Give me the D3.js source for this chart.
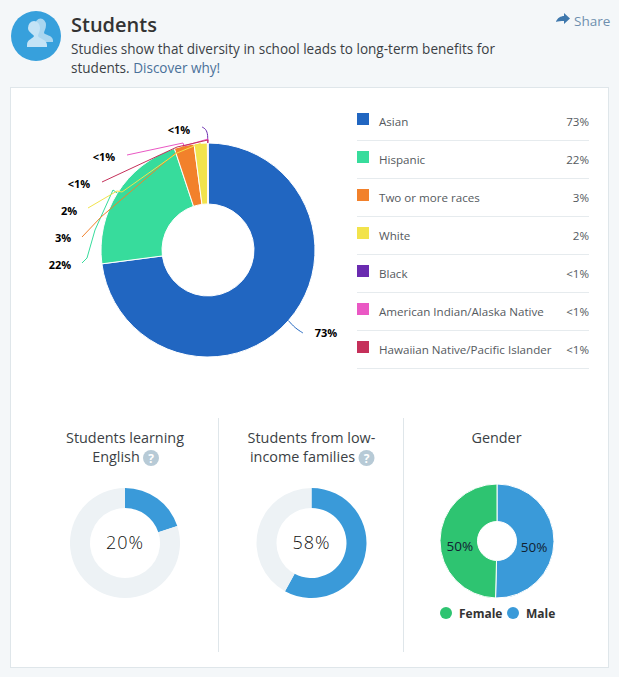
<!DOCTYPE html>
<html><head><meta charset="utf-8">
<script src="https://cdn.jsdelivr.net/npm/d3@7"></script>
<style>
html,body{margin:0;padding:0;background:#f4f7f9;}
svg{display:block;font-family:"Open Sans",sans-serif;}
</style></head><body>
<svg id="c" width="619" height="677"></svg>
<script>
// ---- data ----
const raceNames = ["Asian","Hispanic","Two or more races","White","Black","American Indian/Alaska Native","Hawaiian Native/Pacific Islander"];
const raceValues = [73,22,3,2,0.03,0.03,0.03];
const raceLabels = ["73%","22%","3%","2%","<1%","<1%","<1%"];
const raceColors = ["#2166c1","#37dc9c","#f2812b","#f2e34c","#6a2bb0","#ea58c4","#c5305a"];
const englishValues = [20,80];
const incomeValues = [58,42];
const genderNames = ["Male","Female"];
const genderValues = [50.4,49.6];
const genderLabels = ["50%","50%"];
const genderColors = ["#3a9ad9","#2ec471"];

// ---- layout (not data) ----
const blue="#3a9ad9", pale="#edf2f5", ink="#3b3f45", rule="#dfe6ea";
const svg=d3.select("#c");
const main={cx:208,cy:250,r:107,ri:46};
// label centre + elbow offsets relative to the pie centre, one per slice
const labelLayout=[
 {x:118,y:83,pts:[[95,83],[87,78]],curve:true},
 {x:-148,y:15,pts:[[-126,13],[-121,8],[-113,-20],[-95,-60]],curve:false},
 {x:-145,y:-12,pts:[[-126,-13],[-107,-33]],curve:false},
 {x:-139,y:-39,pts:[[-120,-42],[-91,-59],[-86,-58],[-31,-97]],curve:false},
 {x:-29,y:-120,pts:[[-6,-123],[-2,-121],[0,-115]],curve:true},
 {x:-104,y:-93,pts:[[-81,-95],[-25,-107],[-24,-104],[0,-111]],curve:false},
 {x:-129,y:-66,pts:[[-106,-68],[-31,-103],[0,-110]],curve:false}
];

// page chrome
svg.append("rect").attr("x",10.5).attr("y",87.5).attr("width",598).attr("height",580)
  .attr("fill","#fff").attr("stroke",rule);
const icon=svg.append("g").attr("transform","translate(36,36)");
icon.append("circle").attr("r",25).attr("fill","#37a0dc");
icon.append("path").attr("fill","#a9d6f0").attr("d","M-1,-11a5.5,6.5 0 0 1 11,0c0,4 -2,6 -2,8c1,2 8,2 9,7v2h-12c-1,-4 -5,-5 -6,-8c1,-2 0,-5 0,-9z");
icon.append("path").attr("fill","#c4e3f6").attr("d","M-8,-8a6,7 0 0 1 12,0c0,4 -2,6 -2,8c1,3 9,3 9,9v2h-20v-2c0,-6 6,-6 7,-9c-1,-2 -6,-4 -6,-8z");
svg.append("text").attr("x",71).attr("y",32).attr("font-size",20).attr("font-weight",600).attr("fill","#333").text("Students");
svg.append("text").attr("x",71).attr("y",54).attr("font-size",13.55).attr("fill",ink).text("Studies show that diversity in school leads to long-term benefits for");
const t2=svg.append("text").attr("x",71).attr("y",73).attr("font-size",13.55).attr("fill",ink);
t2.append("tspan").text("students. ");
t2.append("tspan").attr("fill","#4a7199").text("Discover why!");
svg.append("path").attr("fill","#3f78ad").attr("d","M556,22c1,-4 5,-6 8,-6v-3l6,5.5l-6,5.5v-3c-3,0 -6,0 -8,1z");
svg.append("text").attr("x",574).attr("y",26).attr("font-size",13.5).attr("fill","#6f8fae").text("Share");

// main donut
const pie=d3.pie().sort(null).value(d=>d);
const gm=svg.append("g").attr("transform",`translate(${main.cx},${main.cy})`);
const arcM=d3.arc().innerRadius(main.ri).outerRadius(main.r);
const racePie=pie(raceValues);
gm.selectAll("path.s").data(racePie).join("path").attr("class","s")
  .attr("d",arcM).attr("fill",(d,i)=>raceColors[i]).attr("stroke","#fff").attr("stroke-width",1);
const edge=d=>{const a=(d.startAngle+d.endAngle)/2;return [main.r*Math.sin(a),-main.r*Math.cos(a)];};
racePie.forEach((d,i)=>{
  const L=labelLayout[i];
  const pts=[...L.pts,edge(d)];
  const line=d3.line().curve(L.curve?d3.curveBasis:d3.curveLinear);
  gm.append("path").attr("d",line(L.curve?[pts[0],...pts]:pts)).attr("fill","none")
    .attr("stroke",raceColors[i]).attr("stroke-width",1);
  gm.append("text").attr("x",L.x).attr("y",L.y).attr("dy","0.35em").attr("text-anchor","middle")
    .attr("font-size",11).attr("font-weight",700).attr("fill","#000").text(raceLabels[i]);
});

// legend
const rowY=d3.scalePoint().domain(raceNames).range([0,228]);
const rows=svg.selectAll("g.row").data(raceNames).join("g").attr("class","row")
  .attr("transform",d=>`translate(357,${113+rowY(d)})`);
rows.append("rect").attr("width",12).attr("height",12).attr("fill",(d,i)=>raceColors[i]);
rows.append("text").attr("x",22).attr("y",12.5).attr("font-size",11.6).attr("fill","#555a60").text(d=>d);
rows.append("text").attr("x",232).attr("y",12.5).attr("text-anchor","end").attr("font-size",11.6).attr("fill","#555a60").text((d,i)=>raceLabels[i]);
rows.append("line").attr("x1",0).attr("x2",232).attr("y1",27.5).attr("y2",27.5).attr("stroke","#e6ebee");

// dividers
[218.5,403.5].forEach(x=>svg.append("line").attr("x1",x).attr("x2",x).attr("y1",418).attr("y2",652).attr("stroke",rule));

// small stat donuts
function stat(cx,title,values,label){
  const g=svg.append("g").attr("transform",`translate(${cx},543)`);
  const arc=d3.arc().innerRadius(35).outerRadius(55);
  g.selectAll("path").data(pie(values)).join("path").attr("d",arc).attr("fill",(d,i)=>i?pale:blue);
  g.append("text").attr("dy","0.35em").attr("text-anchor","middle").attr("font-size",18).attr("font-weight",300)
    .attr("letter-spacing","1px").attr("fill","#111").text(label);
  const tx=svg.append("text").attr("text-anchor","middle").attr("font-size",14.4).attr("font-weight",500).attr("fill",ink);
  tx.append("tspan").attr("x",cx).attr("y",443).text(title[0]);
  tx.append("tspan").attr("x",cx-9).attr("y",462).text(title[1]);
  const qx=cx+(title[1].length>8?55:26);
  svg.append("circle").attr("cx",qx).attr("cy",458).attr("r",8).attr("fill","#b7cad6");
  svg.append("text").attr("x",qx).attr("y",462.5).attr("text-anchor","middle").attr("font-size",12).attr("font-weight",700).attr("fill","#fff").text("?");
}
stat(125,["Students learning","English"],englishValues,englishValues[0]+"%");
stat(311.5,["Students from low-","income families"],incomeValues,incomeValues[0]+"%");

// gender
svg.append("text").attr("x",496.5).attr("y",443).attr("text-anchor","middle").attr("font-size",14.4).attr("font-weight",500).attr("fill",ink).text("Gender");
const gg=svg.append("g").attr("transform","translate(497,541)");
const arcG=d3.arc().innerRadius(19.5).outerRadius(57);
const genderPie=pie(genderValues);
gg.selectAll("path").data(genderPie).join("path").attr("d",arcG).attr("fill",(d,i)=>genderColors[i]).attr("stroke","#fff").attr("stroke-width",1);
gg.selectAll("text").data(genderPie).join("text")
  .attr("x",d=>arcG.centroid(d)[0]*0.97)
  .attr("y",(d,i)=>i?5:6).attr("dy","0.35em").attr("text-anchor","middle")
  .attr("font-size",13.5).attr("fill","#123").text((d,i)=>genderLabels[i]);
const legendX=d3.scaleOrdinal().domain(["Female","Male"]).range([446,513]);
["Female","Male"].forEach(n=>{
  const c=genderColors[genderNames.indexOf(n)], x=legendX(n);
  svg.append("circle").attr("cx",x).attr("cy",613).attr("r",6).attr("fill",c);
  svg.append("text").attr("x",x+13).attr("y",617.5).attr("font-size",12).attr("font-weight",700).attr("fill","#333").text(n);
});
</script></body></html>
